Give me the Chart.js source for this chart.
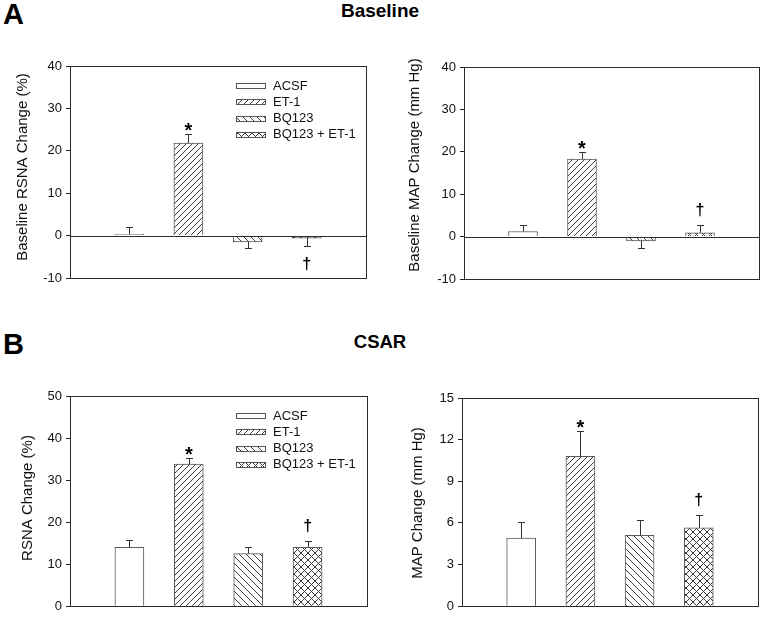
<!DOCTYPE html>
<html>
<head>
<meta charset="utf-8">
<script src="https://cdn.jsdelivr.net/npm/chart.js@4.4.0/dist/chart.umd.min.js"></script>
<style>
  body { margin: 0; background: #fff; }
  #page { position: relative; width: 763px; height: 618px; font-family: "Liberation Sans", Arial, sans-serif; }
  canvas { position: absolute; left: 0; top: 0; }
  .head { position: absolute; font-weight: bold; line-height: 1; color: #000; white-space: nowrap; }
</style>
</head>
<body>
<div id="page">
  <div class="head" style="left:3px; top:0px; font-size:29px;">A</div>
  <div class="head" style="left:330px; width:100px; text-align:center; top:1px; font-size:19px;">Baseline</div>
  <div class="head" style="left:3px; top:330px; font-size:29px;">B</div>
  <div class="head" style="left:330px; width:100px; text-align:center; top:333px; font-size:18.5px;">CSAR</div>
  <canvas id="c1" width="763" height="618"></canvas>
  <canvas id="c2" width="763" height="618"></canvas>
  <canvas id="c3" width="763" height="618"></canvas>
  <canvas id="c4" width="763" height="618"></canvas>
</div>
<script>
// data
const groups = ['ACSF', 'ET-1', 'BQ123', 'BQ123 + ET-1'];
const marks = ['', '*', '', '\u2020']; // * vs ACSF, dagger vs ET-1

const baseRsna = [0.3, 21.8, -1.5, -0.6];
const baseRsnaErr = [1.8, 2.2, 1.4, 1.9];
const baseMap = [1.2, 18.3, -1.0, 0.9];
const baseMapErr = [1.6, 1.7, 1.7, 1.8];
const csarRsna = [14.0, 33.8, 12.5, 14.0];
const csarRsnaErr = [1.7, 1.5, 1.6, 1.5];
const csarMap = [4.9, 10.8, 5.1, 5.65];
const csarMapErr = [1.2, 1.8, 1.1, 0.95];

const baseTicks = [-10, 40, 10];   // min, max, step
const csarRsnaTicks = [0, 50, 10];
const csarMapTicks = [0, 15, 3];

const FONT = '"Liberation Sans", Arial, sans-serif';

// hatch fills
function hatch(size, dirs) {
    const c = document.createElement('canvas');
    c.width = c.height = size;
    const g = c.getContext('2d');
    g.fillStyle = '#fff';
    g.fillRect(0, 0, size, size);
    g.strokeStyle = '#3a3a3a';
    g.lineWidth = 1;
    dirs.forEach(function(d) {
        g.beginPath();
        if (d === '/') {
            g.moveTo(0, size); g.lineTo(size, 0);
            g.moveTo(-1, 1); g.lineTo(1, -1);
            g.moveTo(size - 1, size + 1); g.lineTo(size + 1, size - 1);
        } else {
            g.moveTo(0, 0); g.lineTo(size, size);
            g.moveTo(size - 1, -1); g.lineTo(size + 1, 1);
            g.moveTo(-1, size - 1); g.lineTo(1, size + 1);
        }
        g.stroke();
    });
    return g.createPattern(c, 'repeat');
}
const fills = ['#ffffff', hatch(6, ['/']), hatch(7, ['\\']), hatch(7, ['/', '\\'])];

// frame, zero line, error bars, marks, legend, y title
const extras = {
    id: 'extras',
    afterDatasetsDraw(chart) {
        const ctx = chart.ctx;
        const a = chart.chartArea;
        const y = chart.scales.y;
        const o = chart.options.plugins.extras;
        const px = v => Math.round(v) + 0.5;
        ctx.save();
        ctx.strokeStyle = '#2a2a2a';
        ctx.lineWidth = 1;
        ctx.strokeRect(px(a.left), px(a.top), Math.round(a.right) - Math.round(a.left), Math.round(a.bottom) - Math.round(a.top));
        if (y.min < 0) {
            ctx.beginPath();
            ctx.moveTo(a.left, px(y.getPixelForValue(0)));
            ctx.lineTo(a.right, px(y.getPixelForValue(0)));
            ctx.stroke();
        }
        // error bars
        ctx.strokeStyle = '#333';
        chart.data.datasets.forEach(function(ds, i) {
            const bar = chart.getDatasetMeta(i).data[0];
            const v = ds.data[0].y;
            const end = v >= 0 ? v + o.err[i] : v - o.err[i];
            const ye = y.getPixelForValue(end);
            const x = px(bar.x);
            ctx.beginPath();
            ctx.moveTo(x, bar.y);
            ctx.lineTo(x, px(ye));
            ctx.moveTo(x - 3.5, px(ye));
            ctx.lineTo(x + 3.5, px(ye));
            ctx.stroke();
            if (marks[i]) {
                ctx.fillStyle = '#000';
                ctx.textAlign = 'center';
                ctx.textBaseline = 'alphabetic';
                if (marks[i] === '*') {
                    ctx.font = 'bold 20px ' + FONT;
                    ctx.fillText(marks[i], bar.x, ye + 3);
                } else {
                    ctx.font = 'bold 16px ' + FONT;
                    if (v >= 0) ctx.fillText(marks[i], bar.x, ye - 10);
                    else ctx.fillText(marks[i], bar.x, ye + 23);
                }
            }
        });
        // legend
        if (o.legend) {
            ctx.font = '13px ' + FONT;
            ctx.textAlign = 'left';
            ctx.textBaseline = 'middle';
            groups.forEach(function(g, i) {
                const ly = a.top + 20 + i * 16.3;
                const lx = a.left + 166;
                ctx.fillStyle = fills[i];
                ctx.fillRect(lx, Math.round(ly) - 2.5, 30, 5);
                ctx.strokeStyle = '#555';
                ctx.strokeRect(lx + 0.5, Math.round(ly) - 2.5, 29, 5);
                ctx.fillStyle = '#111';
                ctx.fillText(g, lx + 37, ly);
            });
        }
        // y title
        ctx.translate(o.titleX, o.titleY);
        ctx.rotate(-Math.PI / 2);
        ctx.font = '15px ' + FONT;
        ctx.fillStyle = '#111';
        ctx.textAlign = 'center';
        ctx.textBaseline = 'middle';
        ctx.fillText(o.title, 0, 0);
        ctx.restore();
    }
};

function makeChart(id, values, errs, ticks, area, title, titlePos, legend) {
    const padLeft = area[0] - 50;
    new Chart(document.getElementById(id), {
        type: 'bar',
        data: {
            datasets: groups.map(function(g, i) {
                return {
                    label: g,
                    data: [{ x: i + 1, y: values[i] }],
                    backgroundColor: fills[i],
                    borderColor: '#5a5a5a',
                    borderWidth: 1,
                    barThickness: 29,
                    grouped: false
                };
            })
        },
        options: {
            responsive: false,
            animation: false,
            devicePixelRatio: 1,
            layout: { padding: { left: padLeft, top: area[1], right: 763 - area[2], bottom: 618 - area[3] } },
            scales: {
                x: { type: 'linear', min: 0, max: 5, offset: false, display: false },
                y: {
                    min: ticks[0], max: ticks[1],
                    ticks: { stepSize: ticks[2], padding: 4, color: '#111', font: { family: FONT, size: 13 } },
                    grid: { drawOnChartArea: false, drawTicks: true, tickLength: 4, color: '#222' },
                    border: { display: false },
                    afterFit: function(s) { s.width = 50; }
                }
            },
            plugins: {
                legend: { display: false },
                tooltip: { enabled: false },
                extras: { err: errs, legend: legend, title: title, titleX: titlePos[0], titleY: titlePos[1] }
            }
        },
        plugins: [extras]
    });
}

makeChart('c1', baseRsna, baseRsnaErr, baseTicks, [70, 66, 366, 278], 'Baseline RSNA Change (%)', [23, 167], true);
makeChart('c2', baseMap, baseMapErr, baseTicks, [464, 67, 759, 279], 'Baseline MAP Change (mm Hg)', [415, 165], false);
makeChart('c3', csarRsna, csarRsnaErr, csarRsnaTicks, [70, 396, 367, 608], 'RSNA Change (%)', [28, 498], true);
makeChart('c4', csarMap, csarMapErr, csarMapTicks, [462, 398, 758, 610], 'MAP Change (mm Hg)', [418, 503], false);
</script>
</body>
</html>
